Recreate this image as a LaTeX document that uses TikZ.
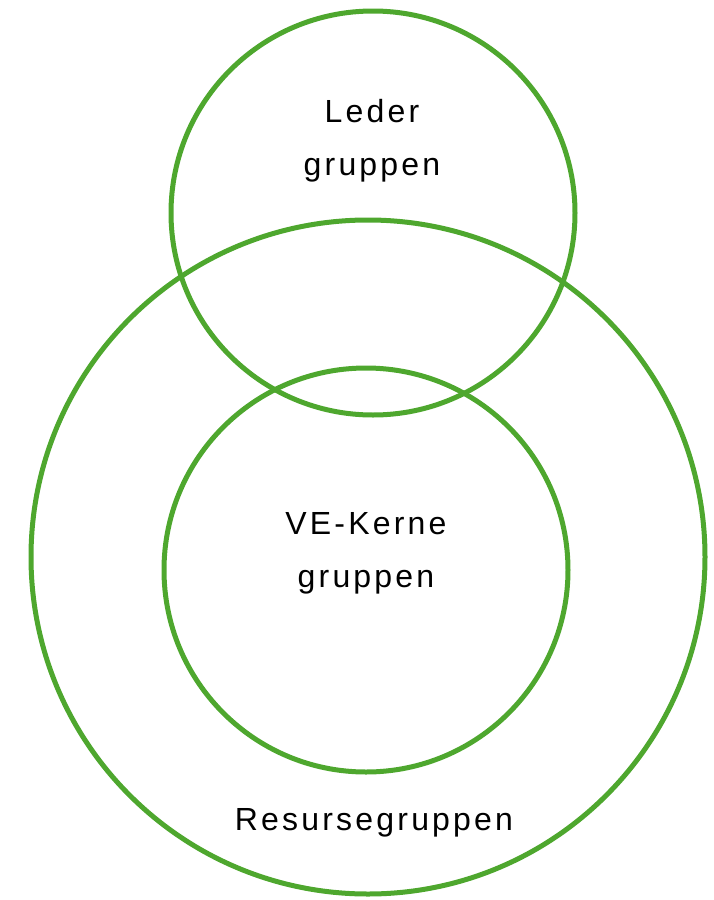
\documentclass[tikz,border=0pt]{standalone}
\usepackage{fontspec}
\setmainfont{Liberation Sans}[LetterSpace=10]
\definecolor{ringgreen}{RGB}{78,167,46}
\begin{document}
\begin{tikzpicture}[x=1pt,y=-1pt,
  ring/.style={circle, draw=ringgreen, line width=5pt, inner sep=0pt},
  label/.style={font=\fontsize{32}{53}\selectfont, align=center, text=black, inner sep=0pt}]
\useasboundingbox (0,0) rectangle (713,900);
\node[ring, minimum size=674pt] (resurs) at (368,557) {};
\node[ring, minimum size=404pt] (leder) at (373,213) {};
\node[ring, minimum size=404pt] (kerne) at (366,570) {};
\node[label, anchor=base] (ledertxt) at (372,175) {Leder\\gruppen};
\node[label, anchor=base] (kernetxt) at (366,587) {VE-Kerne\\gruppen};
\node[label, anchor=base] (resurstxt) at (374,830) {Resursegruppen};
\end{tikzpicture}
\end{document}
